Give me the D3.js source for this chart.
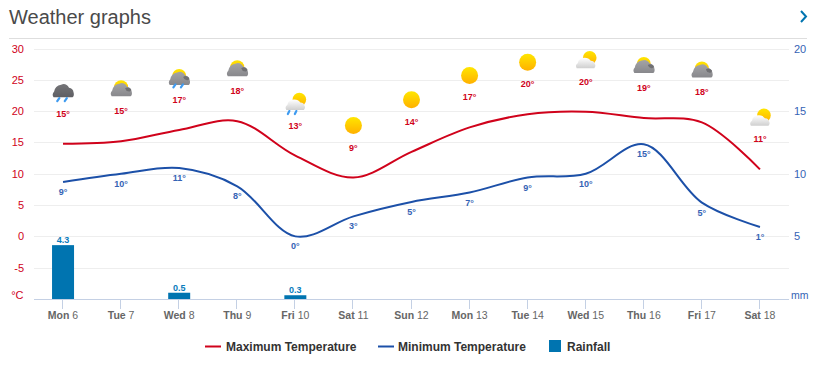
<!DOCTYPE html>
<html><head><meta charset="utf-8">
<script src="https://cdn.jsdelivr.net/npm/d3@7/dist/d3.min.js"></script>
<style>
html,body{margin:0;padding:0;background:#fff}
svg{display:block}
text{font-family:"Liberation Sans",Arial,sans-serif}
</style></head><body>
<svg id="c" width="823" height="375"></svg>
<script>
const days=["Mon 6","Tue 7","Wed 8","Thu 9","Fri 10","Sat 11","Sun 12","Mon 13","Tue 14","Wed 15","Thu 16","Fri 17","Sat 18"];
const maxTemp=[14.8,15.2,17,18.4,12.9,9.4,13.5,17.4,19.5,19.9,18.9,18.2,10.7];
const minTemp=[8.7,10,10.9,8,0,3.2,5.5,7,9.4,10,14.7,5.4,1.5];
const maxLabels=[15,15,17,18,13,9,14,17,20,20,19,18,11];
const minLabels=[9,10,11,8,0,3,5,7,9,10,15,5,1];
const rain=[4.3,0,0.5,0,0.3,0,0,0,0,0,0,0,0];
const icons=["darkrain","dark","darksunrain","dark","lightrain","sun","sun","sun","sun","light","dark","dark","light"];
const tempTicks=[30,25,20,15,10,5,0,-5];
const rainTicks=[20,15,10,5];

const svg=d3.select("#c");
const L=34,R=789,T=48.5,B=299;
const x=d3.scaleBand().domain(days).range([L-1,R-1]);
const tx0=d=>x(d)+x.bandwidth()/2;
const cx=d=>tx0(d)+1;
const yT=d3.scaleLinear().domain([-10,30]).range([B,T]);
const yR=d3.scaleLinear().domain([0,20]).range([B,T]);
const RED="#d0021b",BLUE="#1c50a8",AXB="#3563b5",TEAL="#0074b0";

const defs=svg.append("defs");
function grad(id,a,b){const g=defs.append("linearGradient").attr("id",id).attr("x1",0).attr("x2",0).attr("y1",0).attr("y2",1);
 g.append("stop").attr("offset",0).attr("stop-color",a);g.append("stop").attr("offset",1).attr("stop-color",b);}
grad("gSun","#ffe600","#ffb000");
grad("gDark","#757578","#5f5f63");
grad("gGrey","#a4a4a6","#88888c");
grad("gLight","#ffffff","#cfcfcf");
defs.append("filter").attr("id","soft").append("feGaussianBlur").attr("stdDeviation",0.35);

svg.append("text").attr("x",9).attr("y",24).attr("font-size",20).attr("fill","#4a4a4a").text("Weather graphs");
svg.append("path").attr("d","M801 11 L806 16.5 L801 22").attr("fill","none").attr("stroke",TEAL).attr("stroke-width",2);
svg.append("line").attr("x1",9).attr("x2",807).attr("y1",38.5).attr("y2",38.5).attr("stroke","#dedede");

svg.append("g").selectAll("line").data(tempTicks).join("line")
 .attr("x1",L).attr("x2",R).attr("y1",d=>Math.round(yT(d))+.5).attr("y2",d=>Math.round(yT(d))+.5)
 .attr("stroke","#eeeeee");

svg.append("g").selectAll("text").data(tempTicks).join("text")
 .attr("x",24).attr("y",d=>yT(d)+4).attr("text-anchor","end").attr("font-size",11).attr("fill",RED).text(d=>d);
svg.append("text").attr("x",23.5).attr("y",299).attr("text-anchor","end").attr("font-size",11).attr("fill",RED).text("°C");

svg.append("g").selectAll("text").data(rainTicks).join("text")
 .attr("x",794).attr("y",d=>yR(d)+4).attr("font-size",11).attr("fill",AXB).text(d=>d);
svg.append("text").attr("x",791).attr("y",299).attr("font-size",10.5).attr("fill",AXB).text("mm");

svg.append("line").attr("x1",L).attr("x2",R).attr("y1",B+.5).attr("y2",B+.5).attr("stroke","#c4d0e4");
const tk=svg.append("g").selectAll("g").data(days).join("g");
tk.append("line").attr("x1",d=>Math.round(tx0(d))+.5).attr("x2",d=>Math.round(tx0(d))+.5).attr("y1",B).attr("y2",B+10).attr("stroke","#c4d0e4");
const tl=tk.append("text").attr("x",d=>cx(d)).attr("y",319).attr("text-anchor","middle").attr("font-size",10.5).attr("fill","#666");
tl.append("tspan").attr("font-weight","bold").text(d=>d.split(" ")[0]+" ");
tl.append("tspan").text(d=>d.split(" ")[1]);

const rb=rain.map((v,i)=>({v,d:days[i]})).filter(o=>o.v>0);
svg.append("g").selectAll("rect").data(rb).join("rect")
 .attr("x",o=>cx(o.d)-11).attr("width",22).attr("y",o=>yR(o.v)).attr("height",o=>B-yR(o.v)).attr("fill",TEAL);
svg.append("g").selectAll("text").data(rb).join("text")
 .attr("x",o=>cx(o.d)).attr("y",o=>yR(o.v)-2).attr("text-anchor","middle").attr("font-size",9).attr("font-weight","bold").attr("fill","#0a7cbc").text(o=>o.v);

const line=d3.line().x((v,i)=>cx(days[i])).y(v=>yT(v)).curve(d3.curveCatmullRom.alpha(0.5));
svg.append("path").attr("d",line(maxTemp)).attr("fill","none").attr("stroke",RED).attr("stroke-width",2);
svg.append("path").attr("d",line(minTemp)).attr("fill","none").attr("stroke",BLUE).attr("stroke-width",2);

svg.append("g").selectAll("text").data(maxLabels).join("text")
 .attr("x",(v,i)=>cx(days[i])).attr("y",(v,i)=>yT(maxTemp[i])-27).attr("text-anchor","middle")
 .attr("font-size",9).attr("font-weight","bold").attr("fill",RED).text(v=>v+"°");
svg.append("g").selectAll("text").data(minLabels).join("text")
 .attr("x",(v,i)=>cx(days[i])).attr("y",(v,i)=>yT(minTemp[i])+13).attr("text-anchor","middle")
 .attr("font-size",9).attr("font-weight","bold").attr("fill",AXB).text(v=>v+"°");

const cloudD="M-9.5 6.5 Q-11.5 3.5 -9 1 Q-8 -5 -2 -6 Q3 -8 6 -3 Q10 -2.5 10.5 1.5 Q11.5 5 9.5 6.5 Z";
const lightD="M-9 8.5 Q-11 5.5 -8 3.5 Q-7 -2 -1 -2 Q3 -2 5 1 Q8.5 1 9 4 Q10.5 6 8.5 8.5 Z";
function drop(g,xo){g.append("path").attr("d",`M${xo+1.3} 6.5 L${xo-.8} 9.5`).attr("stroke","#3f9bf0").attr("stroke-width",2.2).attr("stroke-linecap","round");}
const ig=svg.append("g").selectAll("g").data(icons).join("g")
 .attr("transform",(k,i)=>`translate(${cx(days[i])},${yT(maxTemp[i])-52})`).attr("filter","url(#soft)");
ig.each(function(k){
 const g=d3.select(this);
 if(k==="sun"){g.append("circle").attr("r",8.5).attr("fill","url(#gSun)");return;}
 if(k==="dark"||k==="darksunrain"){
  g.append("circle").attr("cx",0).attr("cy",-2).attr("r",7).attr("fill","url(#gSun)");
  g.append("path").attr("d",cloudD).attr("transform","translate(0,0.5)").attr("fill","url(#gGrey)");
  g.append("path").attr("d","M4 -1 Q7 -3 10 0 Q10 3 7 2 Q5 2 4 -1Z").attr("fill","#6f6f73");
 }
 if(k==="darksunrain"){drop(g,-5);drop(g,2.5);}
 if(k==="darkrain"){
  g.append("path").attr("d",cloudD).attr("transform","translate(0,-1)").attr("fill","url(#gDark)");
  drop(g,-5);drop(g,2.5);
 }
 if(k==="light"||k==="lightrain"){
  g.append("circle").attr("cx",4).attr("cy",-2).attr("r",6.8).attr("fill","url(#gSun)");
  g.append("path").attr("d",lightD).attr("fill","url(#gLight)");
  if(k==="lightrain"){g.attr("transform",g.attr("transform")+" translate(0,-2)");g.append("path").attr("d","M-6 9.5 L-7.5 12.5 M1 9.5 L-.5 12.5").attr("stroke","#3f9bf0").attr("stroke-width",2.2).attr("stroke-linecap","round");}
 }
});

const lg=[["line",RED,"Maximum Temperature",205,226],["line",BLUE,"Minimum Temperature",378,398],["rect",TEAL,"Rainfall",549,567]];
lg.forEach(([t,c,s,a,tx])=>{
 if(t==="line")svg.append("line").attr("x1",a).attr("x2",a+16).attr("y1",346.5).attr("y2",346.5).attr("stroke",c).attr("stroke-width",2);
 else svg.append("rect").attr("x",a).attr("y",340).attr("width",12).attr("height",12).attr("fill",c);
 svg.append("text").attr("x",tx).attr("y",351).attr("font-size",12).attr("font-weight","bold").attr("fill","#333").text(s);
});
</script></body></html>
